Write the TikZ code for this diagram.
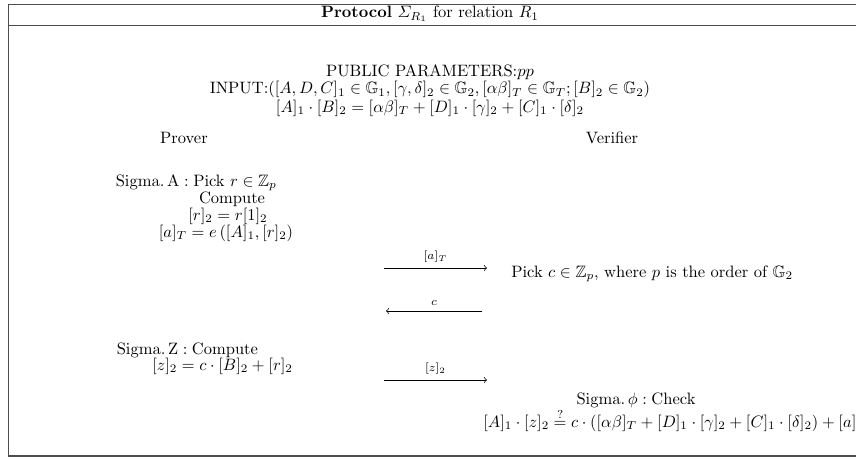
\documentclass[tikz,border=0pt]{standalone}
\usepackage{amsmath,amssymb}
\begin{document}
\begin{tikzpicture}[x=0.6061pt,y=-0.6061pt,
  txt/.style={inner sep=0pt,font=\normalsize},
  lbl/.style={inner sep=0pt,font=\scriptsize},
  msg/.style={->,line width=0.4pt},
  frame/.style={line width=0.85pt,draw=black!70}]
\clip (0,0) rectangle (856,460);
% frame
\draw[frame] (8.5,4.5) -- (870,4.5);
\draw[frame] (8.5,25.5) -- (870,25.5);
\draw[frame] (870,456) -- (8.5,456) -- (8.5,4.5);
% header
\node[txt] (head) at (430,14) {\textbf{Protocol} $\varSigma_{R_1}$ for relation $R_1$};
\node[txt] (pp) at (430,72.5) {PUBLIC PARAMETERS:$pp$};
\node[txt] (inp) at (430,89.5) {INPUT:$([A,D,C]_1\in\mathbb{G}_1,[\gamma,\delta]_2\in\mathbb{G}_2,[\alpha\beta]_T\in\mathbb{G}_T;[B]_2\in\mathbb{G}_2)$};
\node[txt] (rel) at (430,108) {$[A]_1\cdot[B]_2=[\alpha\beta]_T+[D]_1\cdot[\gamma]_2+[C]_1\cdot[\delta]_2$};
% parties
\node[txt] (prover) at (184,138) {Prover};
\node[txt] (verifier) at (612,138) {Verifier};
% prover step A
\node[txt,anchor=west] (sa) at (115.5,183) {$\mathrm{Sigma.\,A}:\text{Pick } r\in\mathbb{Z}_p$};
\node[txt] (comp) at (232,199) {Compute};
\node[txt] (r2) at (228,216) {$[r]_2=r[1]_2$};
\node[txt] (aT) at (226,233) {$[a]_T=e\left([A]_1,[r]_2\right)$};
% messages
\coordinate (m1a) at (384,268); \coordinate (m1b) at (487,268);
\draw[msg] (m1a) -- node[lbl,above=3pt] (l1) {$[a]_T$} (m1b);
\node[txt,anchor=west] (pick) at (511,274) {Pick $c\in\mathbb{Z}_p$, where $p$ is the order of $\mathbb{G}_2$};
\coordinate (m2a) at (482,311); \coordinate (m2b) at (386,311);
\draw[msg] (m2a) -- node[lbl,above=3pt] (l2) {$c$} (m2b);
% prover step Z
\node[txt,anchor=west] (sz) at (116.5,350) {$\mathrm{Sigma.\,Z}:\text{Compute}$};
\node[txt,anchor=west] (z2) at (152,366) {$[z]_2=c\cdot[B]_2+[r]_2$};
\coordinate (m3a) at (384,380); \coordinate (m3b) at (487,380);
\draw[msg] (m3a) -- node[lbl,above=3pt] (l3) {$[z]_2$} (m3b);
% verifier check
\node[txt] (sphi) at (636,400) {$\mathrm{Sigma.\,}\phi:\text{Check}$};
\node[txt,anchor=west] (chk) at (483,420) {$[A]_1\cdot[z]_2\overset{?}{=}c\cdot([\alpha\beta]_T+[D]_1\cdot[\gamma]_2+[C]_1\cdot[\delta]_2)+[a]_T$};
\end{tikzpicture}
\end{document}
